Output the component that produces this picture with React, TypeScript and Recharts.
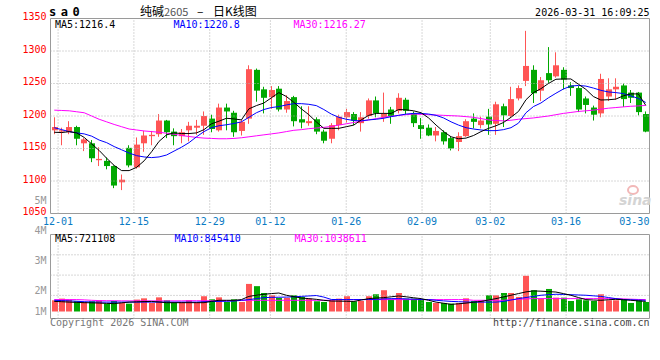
import React from 'react';
import { ComposedChart, Bar, Line, XAxis, YAxis, ReferenceLine, ReferenceArea } from 'recharts';

const MONO = '"DejaVu Sans Mono","Liberation Mono",monospace';
const CJK = '"Noto Sans CJK SC","Noto Sans",sans-serif';
const RED = '#ff5555';
const GREEN = '#00a800';
const GRID = '#b0b0b0';
const BORDER = '#9a9a9a';

// ---- candles (price) ----
const open = [1178,1176,1175,1183,1158,1158,1132,1131,1123,1098,
  1151,1121,1158,1169,1172,1193,1176,1169,1178,1182,
  1185,1196,1178,1213,1205,1177,1196,1271,1241,1229,
  1242,1210,1229,1195,1189,1195,1176,1165,1186,1198,
  1203,1189,1200,1224,1198,1210,1208,1225,1204,1186,
  1182,1170,1175,1166,1160,1169,1196,1186,1199,1188,
  1215,1200,1227,1254,1271,1239,1266,1261,1271,1247,
  1243,1227,1213,1204,1230,1241,1247,1236,1236,1203];
const high = [1198,1182,1192,1185,1166,1163,1152,1136,1124,1110,
  1155,1167,1177,1177,1203,1194,1181,1180,1191,1194,
  1207,1202,1219,1219,1208,1194,1278,1273,1245,1246,
  1246,1232,1231,1215,1215,1198,1179,1189,1202,1211,
  1206,1206,1227,1230,1236,1214,1235,1228,1207,1197,
  1187,1183,1178,1168,1175,1195,1204,1199,1211,1222,
  1219,1245,1247,1331,1278,1260,1306,1298,1275,1252,
  1246,1230,1216,1265,1258,1258,1250,1240,1237,1207];
const low = [1172,1155,1172,1155,1146,1129,1123,1118,1089,1086,
  1121,1119,1145,1155,1168,1166,1155,1158,1161,1171,
  1171,1175,1176,1178,1168,1170,1188,1222,1204,1211,
  1207,1205,1184,1181,1185,1172,1158,1158,1178,1190,
  1186,1176,1196,1198,1191,1188,1204,1203,1183,1165,
  1169,1161,1156,1147,1146,1168,1181,1181,1171,1171,
  1183,1197,1224,1246,1220,1223,1251,1259,1241,1231,
  1206,1204,1193,1198,1223,1225,1214,1220,1201,1175];
const close = [1183,1178,1183,1165,1164,1135,1134,1123,1093,1102,
  1124,1156,1170,1171,1193,1175,1169,1175,1185,1185,
  1200,1180,1213,1207,1175,1191,1272,1239,1228,1240,
  1210,1223,1192,1190,1192,1176,1162,1186,1199,1206,
  1193,1198,1224,1204,1203,1200,1228,1208,1189,1180,
  1170,1177,1161,1150,1169,1192,1191,1193,1187,1218,
  1201,1226,1243,1277,1235,1255,1255,1278,1256,1243,
  1210,1217,1202,1257,1241,1245,1226,1228,1206,1176];

const ma5 = [1175,1174.5,1176,1174,1167,1157,1147,1135,1124,1116,
  1116,1121,1131,1145,1161,1171,1174,1173,1173,1174,
  1179,1188,1192,1196.5,1195.5,1194,1211,1216,1220,1228,
  1236,1230,1221,1211,1202,1191,1181,1181,1181,1183.5,
  1186,1194,1201,1204,1204,1204,1210,1209.5,1208,1205,
  1197,1186,1176,1168,1165,1166,1170,1176,1181,1185,
  1190,1198,1207,1225,1236,1242,1250,1256.5,1257,1257,
  1249,1241,1230,1224.6,1225,1226,1231,1234,1234,1216.4];
const ma10 = [1182,1179,1176,1174,1172.5,1169,1163,1159,1153,1148,
  1143,1139,1137,1136,1137,1140,1146,1152,1159,1168,
  1176,1182,1185,1186.5,1188.5,1191,1198,1205,1210,1213,
  1214.5,1217,1219,1219,1218,1216,1210,1203,1198,1195,
  1193,1192.5,1194,1195,1196.5,1199,1201,1203,1204,1204,
  1203,1201,1197,1191,1186,1182,1180,1178.5,1177.5,1177.5,
  1179,1182,1189,1205,1214.5,1220,1228,1235,1241.5,1246,
  1247,1246,1243,1239.5,1237,1236,1234.5,1231,1227,1220.8];
const ma30 = [1209,1208.5,1208,1206.5,1205,1200,1195,1191,1187,1183.5,
  1180,1178.5,1177,1176,1175,1173.5,1172,1170,1168.5,1167,
  1166,1165.5,1165,1165,1165.5,1166.5,1168,1169.5,1171,1172.5,
  1174,1176,1178,1179,1180.5,1181.5,1182.5,1184,1186,1188,
  1190,1192,1194,1196,1198,1199.5,1201,1202,1203,1202.5,
  1202,1201.5,1201,1200.5,1200,1199,1198,1196,1194,1193,
  1192.5,1193.5,1195,1196,1197,1198.5,1200,1202,1204,1205.5,
  1207,1208,1209,1210.5,1212,1213,1214,1215,1215.5,1216.27];

// ---- volume (thousand lots) ----
const vol = [800,920,850,730,680,730,800,560,750,610,
  560,850,940,610,1010,800,630,680,800,680,
  1090,870,1010,680,870,680,1970,1810,1320,1160,
  970,970,1160,1040,920,730,680,800,920,1090,
  730,750,1090,1230,1520,870,1320,920,920,870,
  680,610,610,560,610,940,750,800,1160,1160,
  1320,1320,1040,2550,1520,920,1610,990,990,750,
  870,800,750,1230,800,800,870,610,800,680];
const vma5 = [720,700,670,650,630,620,600,580,560,620,
  670,690,710,720,680,630,630,630,630,630,
  630,720,800,800,800,850,1080,1160,1230,1280,
  1320,1160,1060,960,920,870,800,750,740,730,
  720,820,920,960,990,1050,1110,1050,980,920,
  800,670,590,510,550,600,660,720,820,920,
  1040,1160,1280,1400,1470,1450,1420,1390,1280,1160,
  1000,850,820,800,840,870,840,800,760,720];
const vma10 = [800,780,760,730,700,680,670,670,670,670,
  670,670,670,670,670,670,670,670,670,670,
  700,710,720,730,750,800,850,920,990,1010,
  1020,1030,1050,1080,1110,1140,1030,860,850,850,
  850,850,860,870,900,920,920,900,880,860,
  850,800,760,720,700,680,670,670,670,670,
  720,820,920,1000,1080,1160,1200,1230,1220,1200,
  1180,1160,1120,1080,1000,920,860,840,820,800];
const vma30 = [850,850,850,850,830,800,780,770,770,760,
  760,760,760,760,760,760,760,760,770,770,
  770,770,770,770,780,790,800,800,800,800,
  800,800,800,800,800,800,800,800,850,850,
  850,850,850,850,850,850,850,850,850,850,
  850,850,850,850,850,850,800,800,800,800,
  800,840,870,900,920,920,920,920,920,920,
  920,920,920,920,920,920,900,880,860,850];

// ---- ticks / labels ----
const tickIdx = [1, 11, 21, 29, 39, 49, 58, 68, 78];
const tickLabels = ['12-01', '12-15', '12-29', '01-12', '01-26', '02-09', '03-02', '03-16', '03-30'];
const priceTicks = [1050, 1100, 1150, 1200, 1250, 1300, 1350];
const priceGrid = [1100, 1150, 1200, 1250, 1300];
const volLabelTicks = [1000, 2000, 3000, 4000];
const volTopLabel = '5M';
const volGrid = [1150, 2600, 4050];

const maLabels = ['MA5:1216.4', 'MA10:1220.8', 'MA30:1216.27'];
const volMaLabels = ['MA5:721108', 'MA10:845410', 'MA30:1038611'];

const N = open.length;
const data = open.map((o, i) => ({
  i, range: [low[i], high[i]], open: o, high: high[i], low: low[i], close: close[i],
  ma5: ma5[i], ma10: ma10[i], ma30: ma30[i],
  vol: vol[i], vma5: vma5[i], vma10: vma10[i], vma30: vma30[i],
}));
const xDomain: [number, number] = [-0.5, N - 0.5];
const gridU = tickIdx.map((d) => -0.5 + (d * N) / (N - 1));

const Candle = (props: any) => {
  const { x, y, width, height, payload } = props;
  if (!payload || height == null) return null;
  const { open: o, close: c, high: h, low: l } = payload;
  const col = c >= o ? RED : GREEN;
  const span = h - l;
  const ppu = span > 0 ? Math.abs(height) / span : 0;
  const top = Math.min(y, y + height);
  const yAt = (v: number) => top + (h - v) * ppu;
  const left = Math.round(x + width / 2 - 3);
  const wx = left + 2.5;
  const bt = yAt(Math.max(o, c));
  const bb = yAt(Math.min(o, c));
  const bh = Math.max(1, bb - bt);
  return (
    <g>
      <line x1={wx} x2={wx} y1={top} y2={top + Math.abs(height)} stroke={col} strokeWidth={1} />
      <rect x={left} y={bt} width={6} height={bh} fill={col} />
    </g>
  );
};

const VolBar = (props: any) => {
  const { x, y, width, height, payload } = props;
  if (!payload) return null;
  const left = Math.round(x + width / 2 - 3);
  const col = payload.close >= payload.open ? RED : GREEN;
  return <rect x={left} y={Math.min(y, y + height)} width={6} height={Math.abs(height)} fill={col} />;
};

const XTick = (props: any) => {
  const { x, y, index } = props;
  const last = index === tickLabels.length - 1;
  return (
    <text x={last ? x + 7.5 : x} y={y} dy="0.71em" textAnchor={last ? 'end' : 'middle'}
      fill="#0a7bc4" fontSize={10} fontFamily={MONO}>{tickLabels[index]}</text>
  );
};

const YTick = (props: any) => {
  const { x, y, payload } = props;
  return (
    <text x={x} y={y - 2} dy="0.355em" textAnchor="end" fill="#ff0000" fontSize={10} fontFamily={MONO}>
      {payload.value}
    </text>
  );
};

const VolTick = (props: any) => {
  const { x, y, payload } = props;
  return (
    <text x={x} y={Math.min(y, 121)} dy="0.355em" textAnchor="end" fill="#999" fontSize={10} fontFamily={MONO}>
      {`${payload.value / 1000}M`}
    </text>
  );
};

const gridLine = { stroke: GRID, strokeDasharray: '1 2', strokeWidth: 1 };

export default function App() {
  return (
    <div style={{ position: 'absolute', left: 0, top: 0, width: 660, height: 360, background: '#fff', overflow: 'hidden' }}>
      <div style={{ position: 'absolute', left: 0, top: 0 }}>
        <ComposedChart width={660} height={232} data={data} margin={{ top: 18.5, right: 10.5, bottom: 0, left: 0 }}>
          <XAxis xAxisId="c" type="number" dataKey="i" domain={xDomain} ticks={gridU} interval={0}
            tick={<XTick />} tickLine={false} axisLine={false} tickSize={0} tickMargin={4} height={18.5} allowDataOverflow />
          <YAxis yAxisId="p" type="number" domain={[1050, 1350]} ticks={priceTicks} interval={0} width={50.5}
            tick={<YTick />} tickLine={false} axisLine={false} tickSize={0} tickMargin={4} allowDataOverflow />
          {priceGrid.map((v) => (
            <ReferenceLine key={'h' + v} xAxisId="c" yAxisId="p" y={v} {...gridLine} />
          ))}
          {gridU.slice(0, -1).map((u, k) => (
            <ReferenceLine key={'v' + k} xAxisId="c" yAxisId="p" x={u} {...gridLine} />
          ))}
          <Bar xAxisId="c" yAxisId="p" dataKey="range" barSize={6} shape={<Candle />} isAnimationActive={false} />
          <Line xAxisId="c" yAxisId="p" dataKey="ma30" stroke="#ff00ff" strokeWidth={1} dot={false} activeDot={false} isAnimationActive={false} type="linear" />
          <Line xAxisId="c" yAxisId="p" dataKey="ma10" stroke="#0000ff" strokeWidth={1} dot={false} activeDot={false} isAnimationActive={false} type="linear" />
          <Line xAxisId="c" yAxisId="p" dataKey="ma5" stroke="#000000" strokeWidth={1} dot={false} activeDot={false} isAnimationActive={false} type="linear" />
          <ReferenceArea xAxisId="c" yAxisId="p" x1={xDomain[0]} x2={xDomain[1]} y1={1050} y2={1350}
            fill="none" fillOpacity={0} stroke={BORDER} strokeWidth={1} ifOverflow="visible" />
        </ComposedChart>
      </div>
      <div style={{ position: 'absolute', left: 0, top: 190 }}>
        <ComposedChart width={660} height={170} data={data} margin={{ top: 44.5, right: 10.5, bottom: 41.5, left: 0 }}>
          <XAxis xAxisId="c" type="number" dataKey="i" domain={xDomain} hide allowDataOverflow />
          <YAxis yAxisId="lab" type="number" domain={[1086, 3868]} ticks={volLabelTicks} interval={0} width={50.5}
            tick={<VolTick />} tickLine={false} axisLine={false} tickSize={0} tickMargin={4} allowDataOverflow />
          <YAxis yAxisId="v" type="number" domain={[-500, 5500]} hide allowDataOverflow />
          {volGrid.map((v) => (
            <ReferenceLine key={'vh' + v} xAxisId="c" yAxisId="v" y={v} {...gridLine} />
          ))}
          {gridU.slice(0, -1).map((u, k) => (
            <ReferenceLine key={'vv' + k} xAxisId="c" yAxisId="v" x={u} {...gridLine} />
          ))}
          <Bar xAxisId="c" yAxisId="v" dataKey="vol" barSize={6} shape={<VolBar />} isAnimationActive={false} />
          <Line xAxisId="c" yAxisId="v" dataKey="vma30" stroke="#ff00ff" strokeWidth={1} dot={false} activeDot={false} isAnimationActive={false} type="linear" />
          <Line xAxisId="c" yAxisId="v" dataKey="vma10" stroke="#0000ff" strokeWidth={1} dot={false} activeDot={false} isAnimationActive={false} type="linear" />
          <Line xAxisId="c" yAxisId="v" dataKey="vma5" stroke="#000000" strokeWidth={1} dot={false} activeDot={false} isAnimationActive={false} type="linear" />
          <ReferenceArea xAxisId="c" yAxisId="v" x1={xDomain[0]} x2={xDomain[1]} y1={-500} y2={5500}
            fill="none" fillOpacity={0} stroke={BORDER} strokeWidth={1} ifOverflow="visible" />
        </ComposedChart>
      </div>
      <svg width={660} height={360} style={{ position: 'absolute', left: 0, top: 0, pointerEvents: 'none' }}>
        <text x={49} y={15.5} fontFamily={MONO} fontWeight="bold" fontSize={12} letterSpacing={4.5} fill="#000">sa0</text>
        <text x={140} y={15.5} fontFamily={CJK} fontSize={12} fill="#000">
          纯碱<tspan fill="#555" fontSize={11}>2605</tspan>
          <tspan x={197}>–</tspan>
          <tspan x={213}>日K线图</tspan>
        </text>
        <text x={649.5} y={15.5} textAnchor="end" fontFamily={MONO} fontSize={10} fill="#000">2026-03-31 16:09:25</text>
        <text x={55} y={27.5} fontFamily={MONO} fontSize={10} fill="#000">{maLabels[0]}</text>
        <text x={173.5} y={27.5} fontFamily={MONO} fontSize={10} fill="#0000ff">{maLabels[1]}</text>
        <text x={293.5} y={27.5} fontFamily={MONO} fontSize={10} fill="#ff00ff">{maLabels[2]}</text>
        <text x={46.5} y={200.3} dy="0.355em" textAnchor="end" fontFamily={MONO} fontSize={10} fill="#999">{volTopLabel}</text>
        <text x={55} y={241.5} fontFamily={MONO} fontSize={10} fill="#000">{volMaLabels[0]}</text>
        <text x={174.5} y={241.5} fontFamily={MONO} fontSize={10} fill="#0000ff">{volMaLabels[1]}</text>
        <text x={294.5} y={241.5} fontFamily={MONO} fontSize={10} fill="#ff00ff">{volMaLabels[2]}</text>
        <text x={50} y={325.5} fontFamily={MONO} fontSize={10} fill="#777">Copyright 2026 SINA.COM</text>
        <text x={649.5} y={325.5} textAnchor="end" fontFamily={MONO} fontSize={10} fill="#444">http://finance.sina.com.cn</text>
        <ellipse cx={633} cy={190} rx={5} ry={4} fill="none" stroke="#f2b8b8" strokeWidth={2} />
        <text x={619} y={205} fontFamily='"DejaVu Sans",sans-serif' fontStyle="italic" fontWeight="bold" fontSize={14} fill="#d4d4d4">sina</text>
      </svg>
    </div>
  );
}
